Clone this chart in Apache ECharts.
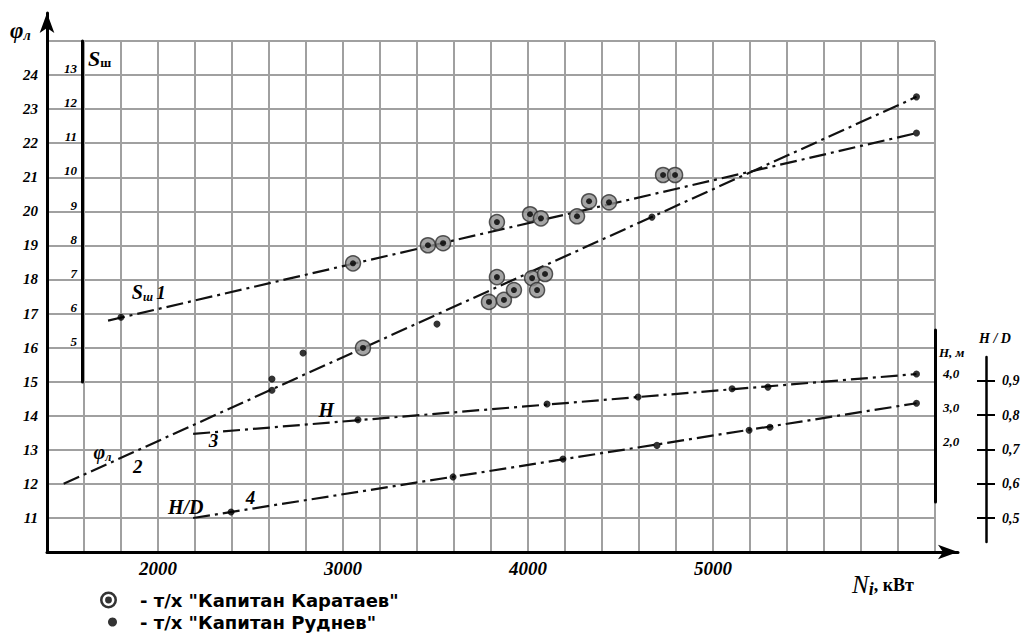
<!DOCTYPE html>
<html>
<head>
<meta charset="utf-8">
<script src="https://cdn.jsdelivr.net/npm/echarts@6/dist/echarts.min.js"></script>
<style>
  html, body { margin: 0; padding: 0; background: #fff; }
  #chart { width: 1027px; height: 633px; }
</style>
</head>
<body>
<div id="chart"></div>
<script>
// tick labels
const xLabels = [2000, 3000, 4000, 5000];
const phiLabels = [11, 12, 13, 14, 15, 16, 17, 18, 19, 20, 21, 22, 23, 24];
const sLabels = [5, 6, 7, 8, 9, 10, 11, 12, 13];
const hLabels = [2, 3, 4];
const hdLabels = [0.5, 0.6, 0.7, 0.8, 0.9];

// curve 1: S_ш
const sLine = [[1730, 5.8], [6100, 11.3]];
const sKarataev = [[3054, 7.48], [3459, 8.01], [3541, 8.07], [3832, 8.69], [4011, 8.92], [4070, 8.8],
  [4265, 8.86], [4330, 9.3], [4438, 9.27], [4730, 10.07], [4795, 10.07]];
const sRudnev = [[1800, 5.9], [6100, 11.3]];

// curve 2: φ_л
const phiLine = [[1490, 12.0], [6100, 23.36]];
const phiKarataev = [[3108, 15.99], [3789, 17.34], [3832, 18.07], [3870, 17.4], [3924, 17.69],
  [4022, 18.04], [4049, 17.69], [4092, 18.16]];
const phiRudnev = [[2616, 14.75], [2616, 15.08], [2784, 15.84], [3508, 16.69], [4670, 19.83], [6100, 23.36]];

// curve 3: H, м
const hLine = [[2190, 2.23], [6100, 3.97]];
const hRudnev = [[3081, 2.64], [4103, 3.1], [4595, 3.3], [5103, 3.54], [5297, 3.59], [6100, 3.97]];

// curve 4: H/D
const hdLine = [[2190, 0.5], [6100, 0.835]];
const hdRudnev = [[2395, 0.5175], [3595, 0.62], [4189, 0.672], [4697, 0.712], [5195, 0.756], [5308, 0.765], [6100, 0.835]];

const KARATAEV = '- т/х "Капитан Каратаев"';
const RUDNEV = '- т/х "Капитан Руднев"';

const serif = "'Liberation Serif', 'Times New Roman', serif";
const sans = "'DejaVu Sans', Arial, sans-serif";
const gridColor = '#a0a0a0';
const dash = [17, 5, 3, 5];
const ringIcon = 'path://M10,0A10,10,0,1,1,-10,0A10,10,0,1,1,10,0Z' +
  'M7,0A7,7,0,1,0,-7,0A7,7,0,1,0,7,0Z' +
  'M4,0A4,4,0,1,1,-4,0A4,4,0,1,1,4,0Z';

const italicBold = { fontFamily: serif, fontStyle: 'italic', fontWeight: 'bold', color: '#000' };
const comma = (d) => (v) => v.toFixed(d).replace('.', ',');

function hiddenX(gridIndex) {
  return { gridIndex, type: 'value', min: 1400, max: 6200, show: false };
}

function curve(name, data, xi, yi, marks) {
  return {
    name, type: 'line', xAxisIndex: xi, yAxisIndex: yi, data,
    symbol: 'none', silent: true, z: 3,
    lineStyle: { color: '#111', width: 2.2, type: dash },
    markPoint: {
      symbol: 'circle', symbolSize: 0, silent: true,
      label: {
        show: true, position: 'inside', color: '#000',
        rich: {
          b: { ...italicBold, fontSize: 20 },
          sub: { ...italicBold, fontSize: 12, verticalAlign: 'bottom', padding: [10, 0, 0, 0] },
          n: { ...italicBold, fontSize: 19 }
        }
      },
      data: marks
    }
  };
}

function ring(data, xi, yi) {
  return [
    { name: KARATAEV, type: 'scatter', xAxisIndex: xi, yAxisIndex: yi, data, z: 4,
      symbol: 'circle', symbolSize: 15,
      itemStyle: { color: '#8e8e8e', borderColor: '#2e2e2e', borderWidth: 1.5 } },
    { name: 'center', type: 'scatter', xAxisIndex: xi, yAxisIndex: yi, data, z: 5,
      symbol: 'circle', symbolSize: 6, itemStyle: { color: '#000' } }
  ];
}

function dots(data, xi, yi) {
  return { name: RUDNEV, type: 'scatter', xAxisIndex: xi, yAxisIndex: yi, data, z: 5,
    symbol: 'circle', symbolSize: 7, itemStyle: { color: '#000' } };
}

const chart = echarts.init(document.getElementById('chart'), null, { renderer: 'svg' });

chart.setOption({
  backgroundColor: '#fff',
  animation: false,
  grid: [
    { left: 47, right: 92, top: 41, bottom: 81 },   // main φ_л grid
    { left: 47, right: 69, top: 13, bottom: 81 },   // frame with arrows
    { left: 47, right: 92, top: 41, bottom: 251 },  // S_ш scale
    { left: 47, right: 92, top: 330, bottom: 131 }, // H scale
    { left: 47, right: 92, top: 357, bottom: 91 }   // H/D scale
  ],
  xAxis: [
    {
      gridIndex: 0, type: 'value', min: 1400, max: 6200, interval: 200,
      axisLine: { show: false }, axisTick: { show: false },
      splitLine: { show: true, lineStyle: { color: gridColor, width: 2 } },
      axisLabel: { customValues: xLabels, ...italicBold, fontSize: 19, margin: 7, formatter: (v) => String(v) }
    },
    {
      gridIndex: 1, type: 'value', min: 0, max: 1,
      axisLine: { onZero: false, symbol: ['none', 'arrow'], symbolSize: [11, 20],
        lineStyle: { color: '#000', width: 3 } },
      axisTick: { show: false }, axisLabel: { show: false }, splitLine: { show: false }
    },
    hiddenX(2), hiddenX(3), hiddenX(4)
  ],
  yAxis: [
    {
      gridIndex: 0, type: 'value', min: 10, max: 25, interval: 1,
      axisLine: { show: false }, axisTick: { show: false },
      splitLine: { show: true, lineStyle: { color: gridColor, width: 2 } },
      axisLabel: { customValues: phiLabels, ...italicBold, fontSize: 15, margin: 9, formatter: (v) => String(v) }
    },
    {
      gridIndex: 1, type: 'value', min: 0, max: 1,
      axisLine: { onZero: false, symbol: ['none', 'arrow'], symbolSize: [11, 20],
        lineStyle: { color: '#000', width: 3 } },
      axisTick: { show: false }, axisLabel: { show: false }, splitLine: { show: false }
    },
    {
      gridIndex: 2, type: 'value', min: 4, max: 14, interval: 1, offset: -35,
      axisLine: { show: true, lineStyle: { color: '#000', width: 3 } },
      axisTick: { show: false }, splitLine: { show: false },
      axisLabel: { customValues: sLabels, ...italicBold, fontSize: 13, margin: 5, verticalAlign: 'bottom',
        formatter: (v) => String(v) }
    },
    {
      gridIndex: 3, type: 'value', min: 0.25, max: 5.25, position: 'right',
      axisLine: { show: true, lineStyle: { color: '#000', width: 3 } },
      axisTick: { show: false }, splitLine: { show: false },
      axisLabel: { customValues: hLabels, ...italicBold, fontSize: 13, margin: 8, formatter: comma(1) }
    },
    {
      gridIndex: 4, type: 'value', min: 0.43, max: 0.97, position: 'right', offset: 51,
      axisLine: { show: true, lineStyle: { color: '#000', width: 2.5 } },
      axisTick: { show: true, customValues: hdLabels, length: 9, lineStyle: { color: '#000', width: 2 } },
      splitLine: { show: false },
      axisLabel: { customValues: hdLabels, ...italicBold, fontSize: 14, margin: 16, formatter: comma(1) }
    },
    {
      gridIndex: 4, type: 'value', min: 0.43, max: 0.97, position: 'right', offset: 51,
      axisLine: { show: false },
      axisTick: { show: true, inside: true, customValues: hdLabels, length: 9, lineStyle: { color: '#000', width: 2 } },
      splitLine: { show: false }, axisLabel: { show: false }
    }
  ],
  legend: [
    {
      data: [{ name: KARATAEV, icon: ringIcon, itemStyle: { color: '#000', borderWidth: 0 } }],
      left: 100, top: 591, padding: 0, itemWidth: 17, itemHeight: 17, selectedMode: false,
      textStyle: { fontFamily: sans, fontWeight: 'bold', fontSize: 18, color: '#000', padding: [0, 0, 0, 18] }
    },
    {
      data: [{ name: RUDNEV, icon: 'circle', itemStyle: { color: '#000' } }],
      left: 108, top: 613, padding: 0, itemWidth: 9, itemHeight: 9, selectedMode: false,
      textStyle: { fontFamily: sans, fontWeight: 'bold', fontSize: 18, color: '#000', padding: [0, 0, 0, 18] }
    }
  ],
  graphic: [
    { type: 'text', left: 10, top: 19, silent: true,
      style: { text: '{b|φ}{sub|л}', rich: {
        b: { fontFamily: serif, fontStyle: 'italic', fontWeight: 'bold', fontSize: 23, fill: '#000' },
        sub: { fontFamily: serif, fontStyle: 'italic', fontWeight: 'bold', fontSize: 14, fill: '#000', verticalAlign: 'bottom' } } } },
    { type: 'text', left: 88, top: 47, silent: true,
      style: { text: '{b|S}{sub|ш}', rich: {
        b: { fontFamily: serif, fontStyle: 'italic', fontWeight: 'bold', fontSize: 22, fill: '#000' },
        sub: { fontFamily: serif, fontWeight: 'bold', fontSize: 13, fill: '#000', verticalAlign: 'bottom' } } } },
    { type: 'text', left: 939, top: 346, silent: true,
      style: { text: 'H, м', font: "italic bold 13px 'Liberation Serif'", fill: '#000' } },
    { type: 'text', left: 979, top: 331, silent: true,
      style: { text: 'H / D', font: "italic bold 14px 'Liberation Serif'", fill: '#000' } },
    { type: 'text', left: 852, top: 572, silent: true,
      style: { text: '{n|N}{i|i}{r|, кВт}', rich: {
        n: { fontFamily: serif, fontStyle: 'italic', fontSize: 25, fill: '#000' },
        i: { fontFamily: serif, fontStyle: 'italic', fontWeight: 'bold', fontSize: 18, fill: '#000', verticalAlign: 'bottom', padding: [8, 0, 0, 0] },
        r: { fontFamily: serif, fontWeight: 'bold', fontSize: 18, fill: '#000' } } } }
  ],
  series: [
    curve('S_ш', sLine, 2, 2, [{ coord: [1950, 6.63], label: { formatter: '{b|S}{sub|ш} {n|1}' } }]),
    curve('φ_л', phiLine, 0, 0, [
      { coord: [1700, 12.93], label: { formatter: '{b|φ}{sub|л}' } },
      { coord: [1890, 12.5], label: { formatter: '{n|2}' } }
    ]),
    curve('H', hLine, 3, 3, [
      { coord: [2910, 2.93], label: { formatter: '{b|H}' } },
      { coord: [2300, 2.05], label: { formatter: '{n|3}' } }
    ]),
    curve('H/D', hdLine, 4, 4, [
      { coord: [2150, 0.533], label: { formatter: '{b|H/D}' } },
      { coord: [2500, 0.56], label: { formatter: '{n|4}' } }
    ]),
    ...ring(sKarataev, 2, 2),
    ...ring(phiKarataev, 0, 0),
    dots(sRudnev, 2, 2),
    dots(phiRudnev, 0, 0),
    dots(hRudnev, 3, 3),
    dots(hdRudnev, 4, 4)
  ]
});
</script>
</body>
</html>
